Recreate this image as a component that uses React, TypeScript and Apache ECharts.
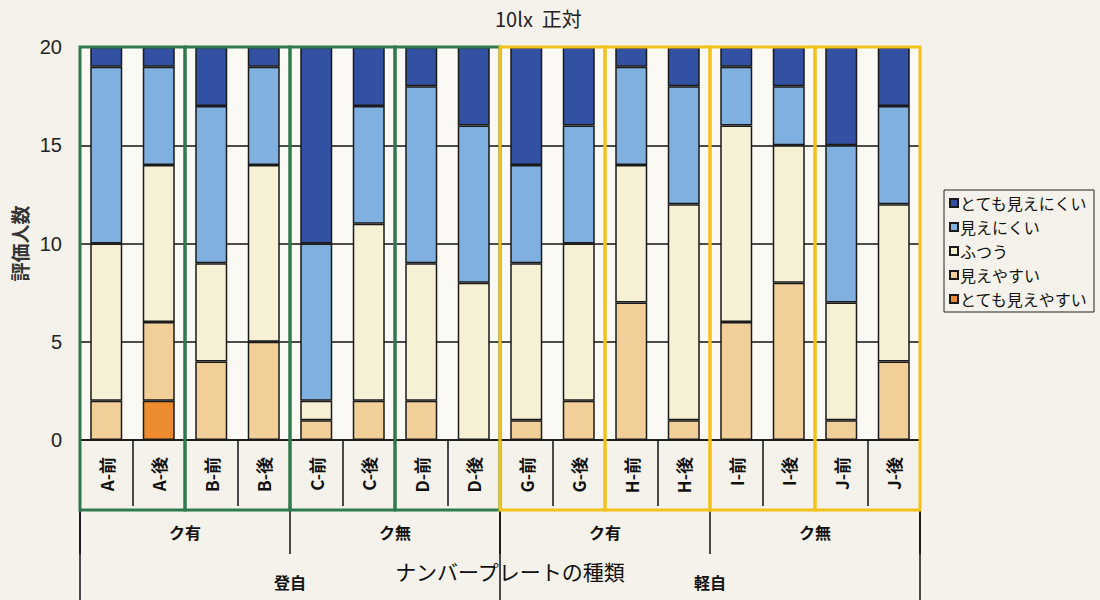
import React, { useEffect, useRef } from "react";
import * as echarts from "echarts";

const categories = ["A-前", "A-後", "B-前", "B-後", "C-前", "C-後", "D-前", "D-後", "G-前", "G-後", "H-前", "H-後", "I-前", "I-後", "J-前", "J-後"];
const subGroups = ["ク有", "ク無", "ク有", "ク無"];
const groups = ["登自", "軽自"];

// stacked from the bottom
const veryEasy = [0, 2, 0, 0, 0, 0, 0, 0, 0, 0, 0, 0, 0, 0, 0, 0];
const easy = [2, 4, 4, 5, 1, 2, 2, 0, 1, 2, 7, 1, 6, 8, 1, 4];
const normal = [8, 8, 5, 9, 1, 9, 7, 8, 8, 8, 7, 11, 10, 7, 6, 8];
const hard = [9, 5, 8, 5, 8, 6, 9, 8, 5, 6, 5, 6, 3, 3, 8, 5];
const veryHard = [1, 1, 3, 1, 10, 3, 2, 4, 6, 4, 1, 2, 1, 2, 5, 3];

const seriesNames = ["とても見えやすい", "見えやすい", "ふつう", "見えにくい", "とても見えにくい"];
const legendOrder = ["とても見えにくい", "見えにくい", "ふつう", "見えやすい", "とても見えやすい"];
const seriesData = [veryEasy, easy, normal, hard, veryHard];
const colors = ["#ec8c2e", "#f2cf98", "#f6f1d4", "#80b0e0", "#3351a3"];

const GRID_LEFT = 80;
const GRID_RIGHT_EDGE = 920;
const GRID_TOP = 47;
const GRID_BOTTOM_Y = 440;
const BOX_BOTTOM = 510;

const CJK = "'Noto Sans CJK JP', sans-serif";
const NARROW = "'Liberation Sans Narrow', 'Liberation Sans', sans-serif";

export default function App() {
  const ref = useRef<HTMLDivElement>(null);
  useEffect(() => {
    if (!ref.current) return;
    const chart = echarts.init(ref.current, null, { renderer: "svg" });
    const pairW = (GRID_RIGHT_EDGE - GRID_LEFT) / 8;
    const rects: any[] = [];
    for (let i = 0; i < 8; i++) {
      rects.push({
        type: "rect",
        z: 100,
        shape: { x: GRID_LEFT + pairW * i, y: GRID_TOP, width: pairW, height: BOX_BOTTOM - GRID_TOP },
        style: { fill: "none", stroke: i < 4 ? "#2f7a4c" : "#f2c21a", lineWidth: 3 },
      });
    }
    chart.setOption({
      animation: false,
      backgroundColor: "#f4f2ea",
      title: {
        text: "10lx  正対",
        left: 490,
        top: 3,
        textStyle: { fontFamily: CJK, fontSize: 20, fontWeight: "normal", color: "#222" },
      },
      legend: {
        orient: "vertical",
        left: 944,
        top: 190,
        data: legendOrder,
        icon: "rect",
        itemWidth: 8,
        itemHeight: 8,
        itemGap: 8,
        borderColor: "#222",
        borderWidth: 1,
        padding: [5, 6, 5, 5],
        textStyle: { fontFamily: CJK, fontSize: 16, color: "#111", padding: [0, 0, 0, -3] },
      },
      grid: {
        left: GRID_LEFT,
        right: 1100 - GRID_RIGHT_EDGE,
        top: GRID_TOP,
        bottom: 600 - GRID_BOTTOM_Y,
        show: true,
        backgroundColor: "#faf9f4",
        borderWidth: 0,
      },
      xAxis: [
        {
          type: "category",
          data: categories,
          axisLine: { lineStyle: { color: "#111", width: 1.5 } },
          axisTick: { show: true, length: 66, interval: 0, lineStyle: { color: "#111", width: 1.5 } },
          axisLabel: { interval: 0, rotate: 90, margin: 17, fontFamily: CJK, fontSize: 17, fontWeight: "bold", color: "#111" },
          name: "ナンバープレートの種類",
          nameLocation: "middle",
          nameGap: 120,
          nameTextStyle: { fontFamily: CJK, fontSize: 21, color: "#111", padding: [0, 0, 0, 20] },
        },
        {
          type: "category",
          data: subGroups,
          position: "bottom",
          offset: BOX_BOTTOM - GRID_BOTTOM_Y,
          axisLine: { show: false },
          axisTick: { show: true, length: 44, interval: 0, lineStyle: { color: "#111", width: 1.5 } },
          axisLabel: { interval: 0, margin: 14, fontFamily: CJK, fontSize: 16, fontWeight: "bold", color: "#111" },
        },
        {
          type: "category",
          data: groups,
          position: "bottom",
          offset: BOX_BOTTOM - GRID_BOTTOM_Y,
          axisLine: { show: false },
          axisTick: { show: true, length: 92, interval: 0, lineStyle: { color: "#111", width: 1.5 } },
          axisLabel: { interval: 0, margin: 64, fontFamily: CJK, fontSize: 16, fontWeight: "bold", color: "#111" },
        },
      ],
      yAxis: {
        type: "value",
        min: 0,
        max: 20,
        interval: 5,
        axisLine: { show: true, lineStyle: { color: "#111", width: 1.5 } },
        axisTick: { show: false },
        axisLabel: { margin: 18, fontFamily: NARROW, fontSize: 20, color: "#222" },
        splitLine: { lineStyle: { color: "#111", width: 1.5 } },
        name: "評価人数",
        nameLocation: "middle",
        nameGap: 48,
        nameTextStyle: { fontFamily: CJK, fontSize: 19, fontWeight: "bold", color: "#333" },
      },
      series: seriesNames.map((name, i) => ({
        name,
        type: "bar",
        stack: "total",
        xAxisIndex: 0,
        barWidth: 32,
        data: seriesData[i].map((v) => (v === 0 ? "-" : v)),
        itemStyle: { color: colors[i], borderColor: "#1a1a1a", borderWidth: 1.5 },
      })),
      graphic: rects,
    });
    return () => chart.dispose();
  }, []);
  return <div ref={ref} style={{ position: "absolute", left: 0, top: 0, width: 1100, height: 600 }} />;
}
